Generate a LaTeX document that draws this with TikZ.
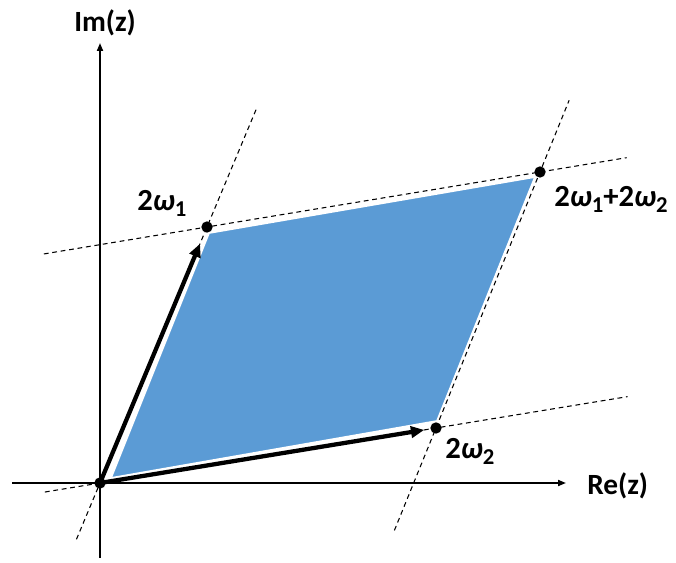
\documentclass[tikz,border=0pt]{standalone}
\usepackage{fontspec}
\setmainfont{Carlito}
\usetikzlibrary{arrows.meta,calc}
\definecolor{pblue}{HTML}{5B9BD5}
\newcommand\lsub[1]{\raisebox{-0.35ex}{\fontsize{17}{17}\selectfont #1}}
\newcommand\om{{\itshape ω}}
\begin{document}
\begin{tikzpicture}[x=0.75pt,y=-0.75pt,
  axislbl/.style={font=\fontsize{22}{26}\selectfont\bfseries, inner sep=0, anchor=base west},
  ptlbl/.style={font=\fontsize{23}{27}\selectfont\bfseries, inner sep=0, anchor=base west},
  axis/.style={line width=1.3pt, -{Triangle[length=6pt,width=4.5pt]}},
  lattice/.style={line width=0.8pt, dash pattern=on 3.6pt off 2.8pt},
  vec/.style={line width=3.2pt, -{Triangle[length=10pt,width=8.5pt]}},
  dot/.style={circle, fill=black, inner sep=0, minimum size=8.5pt}]
\useasboundingbox (0,0) rectangle (676,563);
% lattice points
\coordinate (O) at (100,483);
\coordinate (A) at (207,227);
\coordinate (B) at (436,428);
\coordinate (C) at (540,172);
% axes
\coordinate (xs) at (12,483);
\coordinate (xe) at (566,483);
\coordinate (ys) at (100,558);
\coordinate (ye) at (100,43);
\draw[axis] (xs) -- (xe);
\draw[axis] (ys) -- (ye);
% parallelogram
\fill[pblue, draw=white, line width=1.3pt] (111,478) -- (209,233) -- (535,177) -- (437,421) -- cycle;
% dashed lattice lines
\draw[lattice] ($(O)!-0.22!(A)$) -- ($(O)!1.46!(A)$);
\draw[lattice] ($(B)!-0.4!(C)$) -- ($(B)!1.28!(C)$);
\draw[lattice] ($(A)!-0.49!(C)$) -- ($(A)!1.26!(C)$);
\draw[lattice] ($(O)!-0.164!(B)$) -- ($(O)!1.57!(B)$);
% vectors
\draw[vec] (O) -- ($(O)!0.935!(A)$);
\draw[vec] (O) -- ($(O)!0.965!(B)$);
% dots
\node[dot] (o) at (O) {};
\node[dot] (a) at (A) {};
\node[dot] (b) at (B) {};
\node[dot] (c) at (C) {};
% labels
\node[axislbl] (im) at (74,32) {Im(z)};
\node[axislbl] (re) at (587,494) {Re(z)};
\node[ptlbl] (la) at (137,211) {2\om\lsub{1}};
\node[ptlbl] (lb) at (445,459) {2\om\lsub{2}};
\node[ptlbl] (lc) at (554,207) {2\om\lsub{1}+2\om\lsub{2}};
\end{tikzpicture}
\end{document}
